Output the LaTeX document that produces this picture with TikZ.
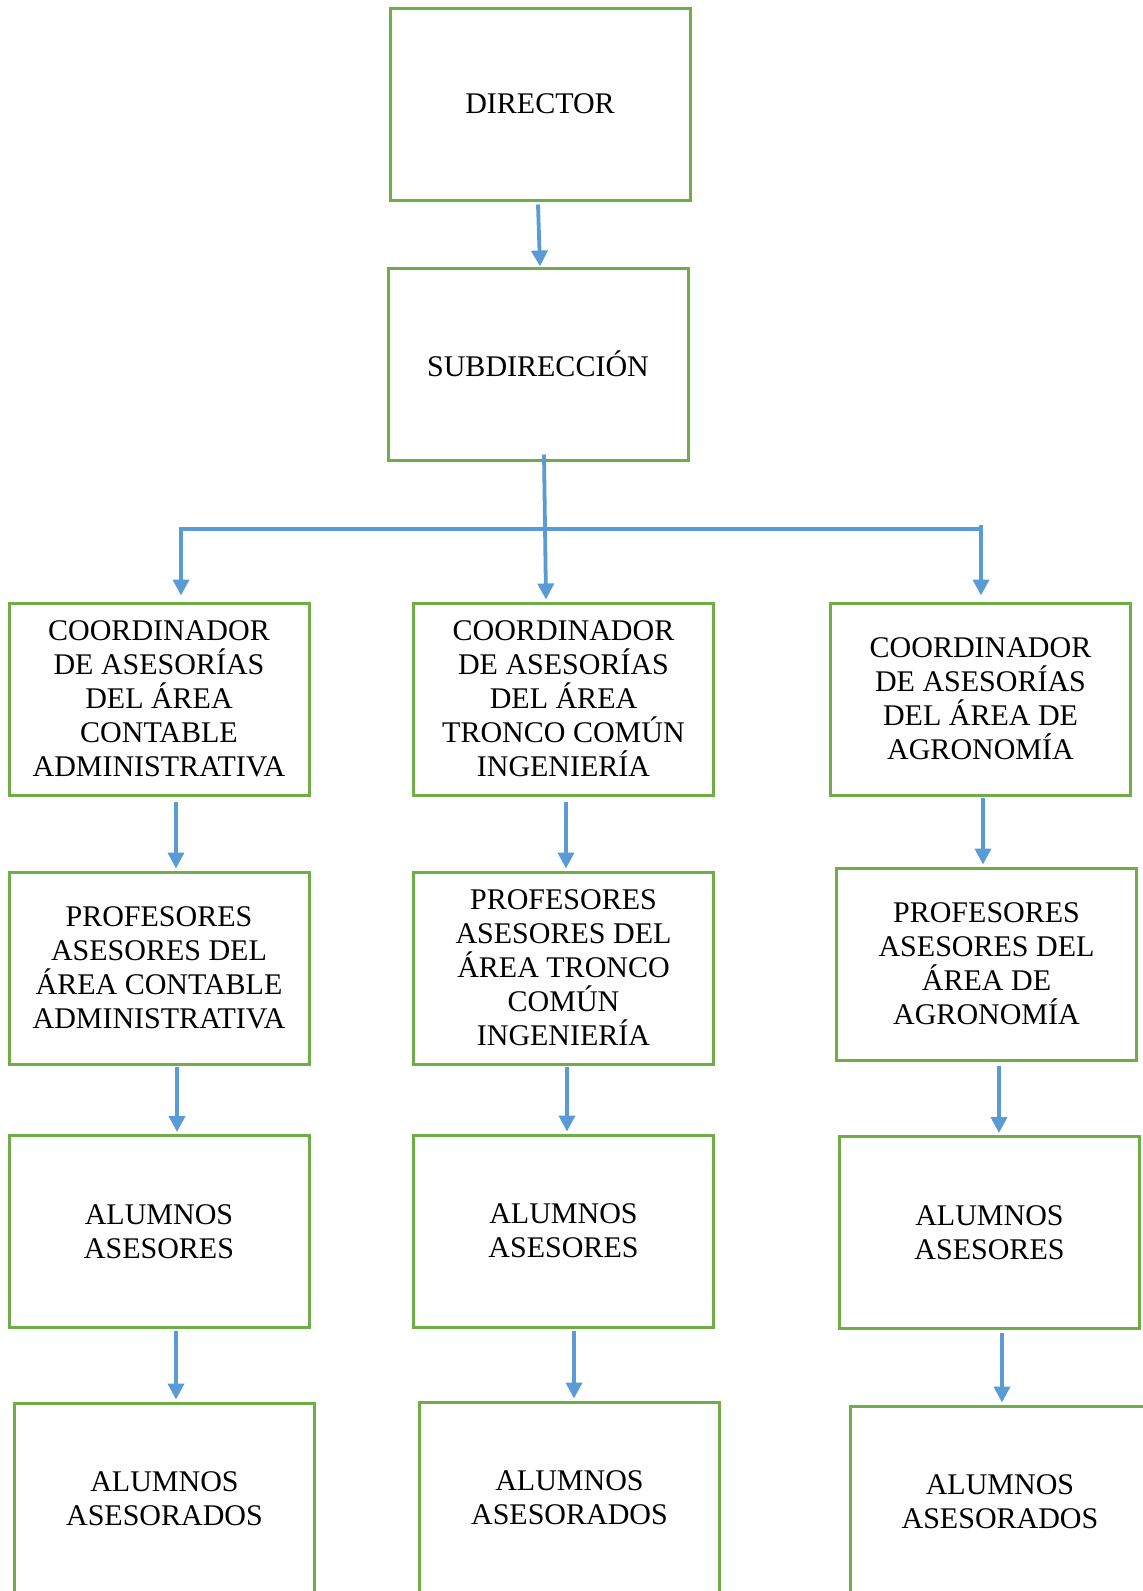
\documentclass[tikz,border=0pt]{standalone}
\usepackage{fontspec}
\setmainfont{Liberation Serif}
\usetikzlibrary{arrows.meta,calc}
\definecolor{boxgreen}{HTML}{70AD47}
\definecolor{linkblue}{HTML}{5B9BD5}
\tikzset{
    orgbox/.style={draw=boxgreen, line width=1.5pt, minimum width=150pt, minimum height=96pt,
        inner sep=0pt, align=center, font=\fontsize{15}{17}\selectfont},
    link/.style={draw=linkblue, line width=1.9pt, -{Triangle[width=8pt,length=8pt]}},
    bar/.style={draw=linkblue, line width=2.4pt}
}
\begin{document}
\begin{tikzpicture}[x = 0.5pt, y = -0.5pt]
    \useasboundingbox (0,0) rectangle (1143,1591);
    \clip (0,0) rectangle (1143,1591);
    % top of the chart
    \node[orgbox] (dir) at (540,104) {DIRECTOR};
    \node[orgbox] (sub) at (538,364) {SUBDIRECCIÓN};
    % coordinators
    \node[orgbox] (coorcont) at (159,699) {COORDINADOR\\DE ASESORÍAS\\DEL ÁREA\\CONTABLE\\ADMINISTRATIVA};
    \node[orgbox] (coortron) at (563.5,699) {COORDINADOR\\DE ASESORÍAS\\DEL ÁREA\\TRONCO COMÚN\\INGENIERÍA};
    \node[orgbox] (cooragro) at (980.5,699) {COORDINADOR\\DE ASESORÍAS\\DEL ÁREA DE\\AGRONOMÍA};
    % teachers
    \node[orgbox] (profcont) at (159,968) {PROFESORES\\ASESORES DEL\\ÁREA CONTABLE\\ADMINISTRATIVA};
    \node[orgbox] (proftron) at (563.5,968) {PROFESORES\\ASESORES DEL\\ÁREA TRONCO\\COMÚN\\INGENIERÍA};
    \node[orgbox] (profagro) at (986.5,964) {PROFESORES\\ASESORES DEL\\ÁREA DE\\AGRONOMÍA};
    % student advisers
    \node[orgbox] (alumcont) at (159,1231.5) {ALUMNOS\\ASESORES};
    \node[orgbox] (alumtron) at (563.5,1231) {ALUMNOS\\ASESORES};
    \node[orgbox] (alumagro) at (989.5,1232.5) {ALUMNOS\\ASESORES};
    % advised students
    \node[orgbox] (asdcont) at (164.5,1499) {ALUMNOS\\ASESORADOS};
    \node[orgbox] (asdtron) at (569.5,1498) {ALUMNOS\\ASESORADOS};
    \node[orgbox] (asdagro) at (1000,1502) {ALUMNOS\\ASESORADOS};
    % connectors
    \coordinate (barL) at (181,529);
    \coordinate (barR) at (981,529);
    \draw[link] ([xshift=-1pt,yshift=-1.5pt]dir.south) -- ([xshift=1pt]sub.north);
    \draw[bar] (barL) -- (barR);
    \draw[link] ([xshift=3pt,yshift=3.5pt]sub.south) -- ([xshift=-8.75pt,yshift=1pt]coortron.north);
    \draw[link] ([yshift=1pt]barL) -- ([yshift=3pt]barL |- coorcont.north);
    \draw[link] ([yshift=2pt]barR) -- ([yshift=3pt]barR |- cooragro.north);
    \draw[link] ([xshift=8.5pt,yshift=-2.5pt]coorcont.south) -- ([xshift=8.5pt,yshift=1pt]profcont.north);
    \draw[link] ([xshift=1.25pt,yshift=-2.5pt]coortron.south) -- ([xshift=1.25pt,yshift=1pt]proftron.north);
    \draw[link] ([xshift=1.25pt,yshift=-0.5pt]cooragro.south) -- ([xshift=1.25pt,yshift=1pt]cooragro.south |- profagro.north);
    \draw[link] ([xshift=9pt,yshift=-0.5pt]profcont.south) -- ([xshift=9pt,yshift=1pt]alumcont.north);
    \draw[link] ([xshift=1.75pt,yshift=-0.5pt]proftron.south) -- ([xshift=1.75pt,yshift=1pt]alumtron.north);
    \draw[link] ([xshift=6.25pt,yshift=-2pt]profagro.south) -- ([xshift=6.25pt,yshift=1pt]profagro.south |- alumagro.north);
    \draw[link] ([xshift=8.5pt,yshift=-1pt]alumcont.south) -- ([xshift=8.5pt,yshift=1pt]alumcont.south |- asdcont.north);
    \draw[link] ([xshift=5.25pt,yshift=-1pt]alumtron.south) -- ([xshift=5.25pt,yshift=1pt]alumtron.south |- asdtron.north);
    \draw[link] ([xshift=6.25pt,yshift=-1.5pt]alumagro.south) -- ([xshift=6.25pt,yshift=1pt]alumagro.south |- asdagro.north);
\end{tikzpicture}
\end{document}
